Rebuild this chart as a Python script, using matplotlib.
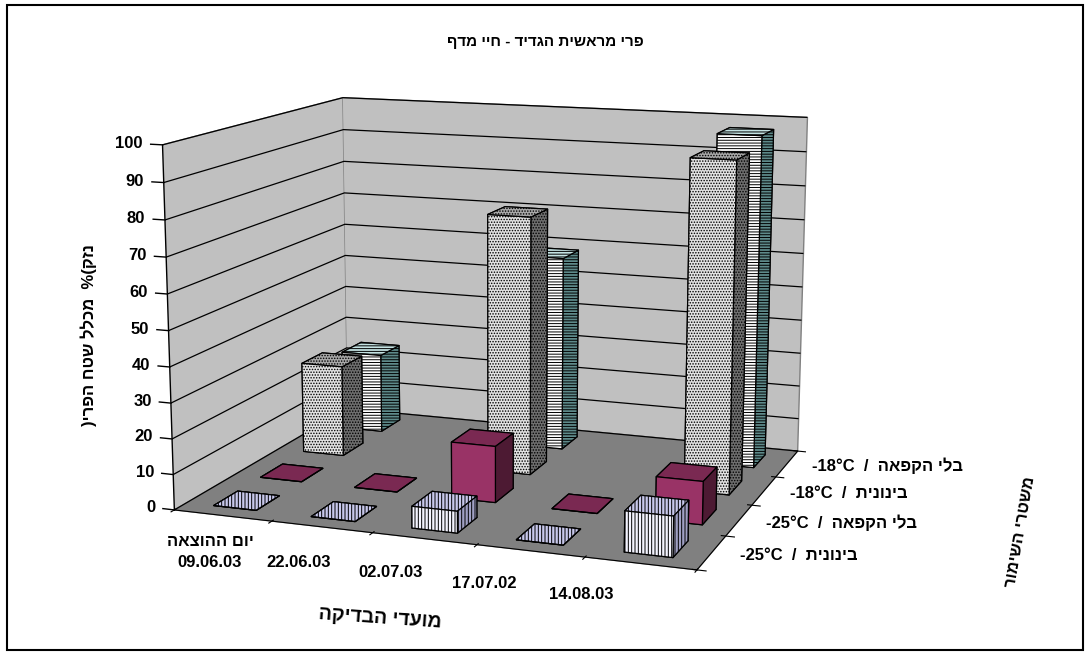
import numpy as np
import matplotlib
matplotlib.use("Agg")
import matplotlib.pyplot as plt
import matplotlib.colors as mcolors
import matplotlib.transforms as mtransforms
from matplotlib.patches import Rectangle

# ---- data ----
dates = ["09.06.03", "22.06.03", "02.07.03", "17.07.02", "14.08.03"]
first_date_prefix = "יום ההוצאה"
treatments = ["בינונית", "בלי הקפאה", "בינונית", "בלי הקפאה"]
temps = ["-25°C", "-25°C", "-18°C", "-18°C"]
nan = np.nan
vals_bin_m25 = [0, 0, 6, 0, 11]
vals_bli_m25 = [0, 0, 16, 0, 12]
vals_bin_m18 = [27, nan, 75, nan, 94]
vals_bli_m18 = [24, nan, 58, nan, 97]
series_values = [vals_bin_m25, vals_bli_m25, vals_bin_m18, vals_bli_m18]
z_ticks = list(range(0, 101, 10))

title = "פרי מראשית הגדיד - חיי מדף"
ylab = "נזק(%  מכלל שטח הפרי)"
xlab = "מועדי הבדיקה"
slab = "משטרי השימור"


def heb(s):
    """visual (left-to-right) order for a pure RTL string"""
    return s[::-1]


FONT = ['Liberation Sans', 'DejaVu Sans']
plt.rcParams['font.family'] = FONT
plt.rcParams['font.weight'] = 'bold'
plt.rcParams['hatch.linewidth'] = 0.7


def T(size):
    return dict(family=FONT, fontsize=size, fontweight='bold')


fig = plt.figure(figsize=(10.9, 6.55), dpi=100)
ax = fig.add_axes([0.02, -0.045, 0.86, 1.12], projection='3d')
ax.set_proj_type('persp', focal_length=0.55)
ax.view_init(elev=12, azim=-70)
ax.set_box_aspect((5.5, 4.35, 3.75))

styles = [
    dict(front='#F4F4FF', top='#C8C8EC', side='#A0A0C4', hatch='|||||', hc='#9C9CEE'),
    dict(front='#993366', top='#7A2952', side='#4D1A33', hatch=None, hc='black'),
    dict(front='#E2E2E2', top='#A8A8A8', side='#6E6E6E', hatch='......', hc='#FFFFFF'),
    dict(front='#FFFFFF', top='#C4E2E2', side='#5E8A8A', hatch='------', hc='#7FE8E8'),
]

w, d = 0.44, 0.5
for si, vals in enumerate(series_values):
    st = styles[si]
    for xi, v in enumerate(vals):
        if np.isnan(v):
            continue
        cols = [st['top'], st['top'], st['front'], st['front'], st['side'], st['side']]
        col = ax.bar3d(xi - w / 2, si - d / 2, 0, w, d, v, color=cols,
                       edgecolor='black', linewidth=0.9, shade=False)
        if st['hatch']:
            col.set_hatch(st['hatch'])
            col._hatch_color = mcolors.to_rgba(st['hc'])

nx, ns = len(dates), len(treatments)
xl, yl = (-0.5, nx - 0.5), (-0.5, ns - 0.5)
ax.set_xlim(*xl)
ax.set_ylim(*yl)
ax.set_zlim(0, 100)

ax.xaxis.set_pane_color('#C0C0C0')
ax.yaxis.set_pane_color('#C0C0C0')
ax.zaxis.set_pane_color('#808080')
for a in (ax.xaxis, ax.yaxis, ax.zaxis):
    a.pane.set_edgecolor('#808080')
    a.line.set_color('black')
ax.grid(True)
ax.xaxis._axinfo['grid']['linewidth'] = 0
ax.yaxis._axinfo['grid']['linewidth'] = 0
ax.zaxis._axinfo['grid']['color'] = 'black'
ax.zaxis._axinfo['grid']['linewidth'] = 0.9

# category axis: ticks at category boundaries, labels under the front edge
ax.set_xticks(np.arange(xl[0], xl[1] + 0.01, 1.0))
ax.set_xticklabels([])
xlabels = [heb(first_date_prefix) + "\n" + dates[0]] + dates[1:]
lab_tr = mtransforms.offset_copy(ax.transData, fig=fig, x=0, y=-38, units='dots')
for i, lab in enumerate(xlabels):
    ax.text(0.9 * i - 0.13, yl[0], 0, lab, ha='center', va='center', linespacing=1.5,
            transform=lab_tr, **T(12))

# series axis
ax.set_yticks(np.arange(yl[0], yl[1] + 0.01, 1.0))
ax.set_yticklabels([])
for si, (t, tr) in enumerate(zip(temps, treatments)):
    ax.text(xl[1] + 0.25, si, 0, f"{t}  /  {heb(tr)}", ha='left', va='center', **T(12))

# value axis on the front-left edge
ax.set_zticks(z_ticks)
ax.set_zticklabels([])
ax.zaxis.line.set_visible(False)
ax.zaxis._axinfo['tick']['inward_factor'] = 0
ax.zaxis._axinfo['tick']['outward_factor'] = 0
ax.plot([xl[0], xl[0]], [yl[0], yl[0]], [0, 100], color='black', lw=1, zorder=50)
for z in z_ticks:
    ax.plot([xl[0] - 0.12, xl[0]], [yl[0], yl[0]], [z, z], color='black', lw=1, zorder=50)
    ax.text(xl[0] - 0.2, yl[0], z, str(z), ha='right', va='center', zorder=50, **T(12))

fig.text(0.5, 0.936, heb(title), ha='center', va='center', **T(11))
fig.text(0.081, 0.489, heb(ylab), rotation=90, ha='center', va='center', **T(12))
fig.text(0.349, 0.056, heb(xlab), rotation=-4, ha='center', va='center', **T(14))
fig.text(0.936, 0.188, heb(slab), rotation=80, ha='center', va='center', **T(12))

fig.add_artist(Rectangle((0.006, 0.008), 0.988, 0.984, transform=fig.transFigure,
                         fill=False, lw=1.5, ec='black'))

fig.savefig("out.png", dpi=100)
